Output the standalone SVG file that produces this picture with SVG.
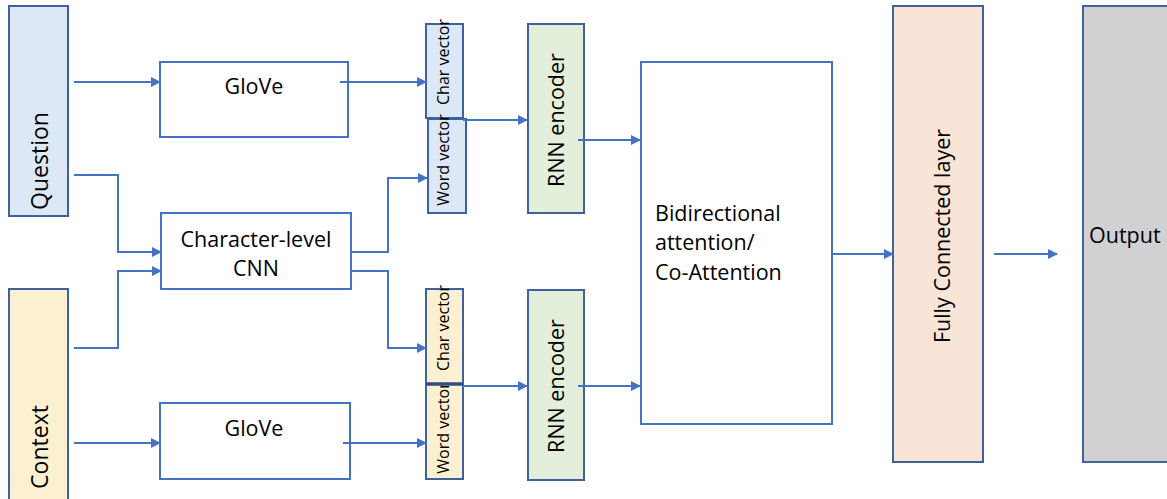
<svg xmlns="http://www.w3.org/2000/svg" width="1167" height="499" viewBox="0 0 1167 499">
<style>
.box{stroke:#41609e;stroke-width:2}
.plain{fill:#ffffff;stroke:#4472c4;stroke-width:2}
.t{font-family:"Open Sans","Liberation Sans",sans-serif;fill:#000;text-anchor:middle;dominant-baseline:central}
.conn{fill:none;stroke:#4472c4;stroke-width:2}
</style>
<defs>
<marker id="ah" markerWidth="10" markerHeight="10" refX="9" refY="5" orient="auto" markerUnits="userSpaceOnUse">
<path d="M0,0 L10,5 L0,10 z" fill="#4472c4"/>
</marker>
</defs>
<rect width="1167" height="499" fill="#ffffff"/>
<g id="question"><rect class="box" x="9" y="6" width="59" height="210" fill="#dce8f5"/><text class="t" font-size="23" transform="translate(39,161) rotate(-90)">Question</text></g>
<g id="context"><rect class="box" x="9" y="289" width="59" height="220" fill="#fdf0d0"/><text class="t" font-size="23" transform="translate(39,447) rotate(-90)">Context</text></g>
<g id="glove-q"><rect class="plain" x="160" y="62" width="188" height="75"/><text class="t" font-size="21.5" x="254" y="85">GloVe</text></g>
<g id="cnn"><rect class="plain" x="161" y="213" width="190" height="76"/><text class="t" font-size="21.5" x="256" y="238">Character-level</text><text class="t" font-size="21.5" x="256" y="267">CNN</text></g>
<g id="glove-c"><rect class="plain" x="160" y="403" width="190" height="76"/><text class="t" font-size="21.5" x="254" y="427">GloVe</text></g>
<g id="charvec-q"><rect class="box" x="426" y="24" width="37" height="94" fill="#dce8f5"/><text class="t" font-size="16" transform="translate(443,62) rotate(-90)">Char vector</text></g>
<g id="wordvec-q"><rect class="box" x="428" y="119" width="38" height="94" fill="#dce8f5"/><text class="t" font-size="16" transform="translate(443,160) rotate(-90)">Word vector</text></g>
<g id="charvec-c"><rect class="box" x="426" y="289" width="37" height="95" fill="#fdf0d0"/><text class="t" font-size="16" transform="translate(443,328) rotate(-90)">Char vector</text></g>
<g id="wordvec-c"><rect class="box" x="426" y="384" width="37" height="95" fill="#fdf0d0"/><text class="t" font-size="16" transform="translate(443,428) rotate(-90)">Word vector</text></g>
<line x1="426" y1="384" x2="463" y2="384" stroke="#2f4f80" stroke-width="3.5"/>
<g id="rnn-q"><rect class="box" x="528" y="24" width="56" height="189" fill="#e3efdb"/><text class="t" font-size="21.5" transform="translate(555,120) rotate(-90)">RNN encoder</text></g>
<g id="rnn-c"><rect class="box" x="528" y="290" width="56" height="190" fill="#e3efdb"/><text class="t" font-size="21.5" transform="translate(555,386) rotate(-90)">RNN encoder</text></g>
<g id="attention"><rect class="plain" x="641" y="62" width="191" height="362"/><text class="t" font-size="21.5" x="655" y="212" style="text-anchor:start">Bidirectional</text><text class="t" font-size="21.5" x="655" y="241" style="text-anchor:start">attention/</text><text class="t" font-size="21.5" x="655" y="271" style="text-anchor:start">Co-Attention</text></g>
<g id="fc"><rect class="box" x="893" y="6" width="90" height="456" fill="#f8e5d7"/><text class="t" font-size="21.5" transform="translate(941,236) rotate(-90)">Fully Connected layer</text></g>
<g id="output"><rect class="box" x="1083" y="6" width="100" height="456" fill="#d1d0d2"/><text class="t" font-size="21.5" x="1089" y="234" style="text-anchor:start">Output</text></g>
<g id="connectors">
<path class="conn" marker-end="url(#ah)" d="M74,82 H160"/>
<path class="conn" marker-end="url(#ah)" d="M74,175 H118 V252 H161"/>
<path class="conn" marker-end="url(#ah)" d="M74,348 H118 V271 H161"/>
<path class="conn" marker-end="url(#ah)" d="M74,443 H160"/>
<path class="conn" marker-end="url(#ah)" d="M340,82 H426"/>
<path class="conn" marker-end="url(#ah)" d="M351,252 H388 V178 H427"/>
<path class="conn" marker-end="url(#ah)" d="M351,271 H388 V348 H426"/>
<path class="conn" marker-end="url(#ah)" d="M343,443 H426"/>
<path class="conn" marker-end="url(#ah)" d="M463,120 H527"/>
<path class="conn" marker-end="url(#ah)" d="M463,386 H527"/>
<path class="conn" marker-end="url(#ah)" d="M578,140 H640"/>
<path class="conn" marker-end="url(#ah)" d="M578,386 H640"/>
<path class="conn" marker-end="url(#ah)" d="M832,254 H893"/>
<path class="conn" marker-end="url(#ah)" d="M994,254 H1057"/>
</g>
</svg>
